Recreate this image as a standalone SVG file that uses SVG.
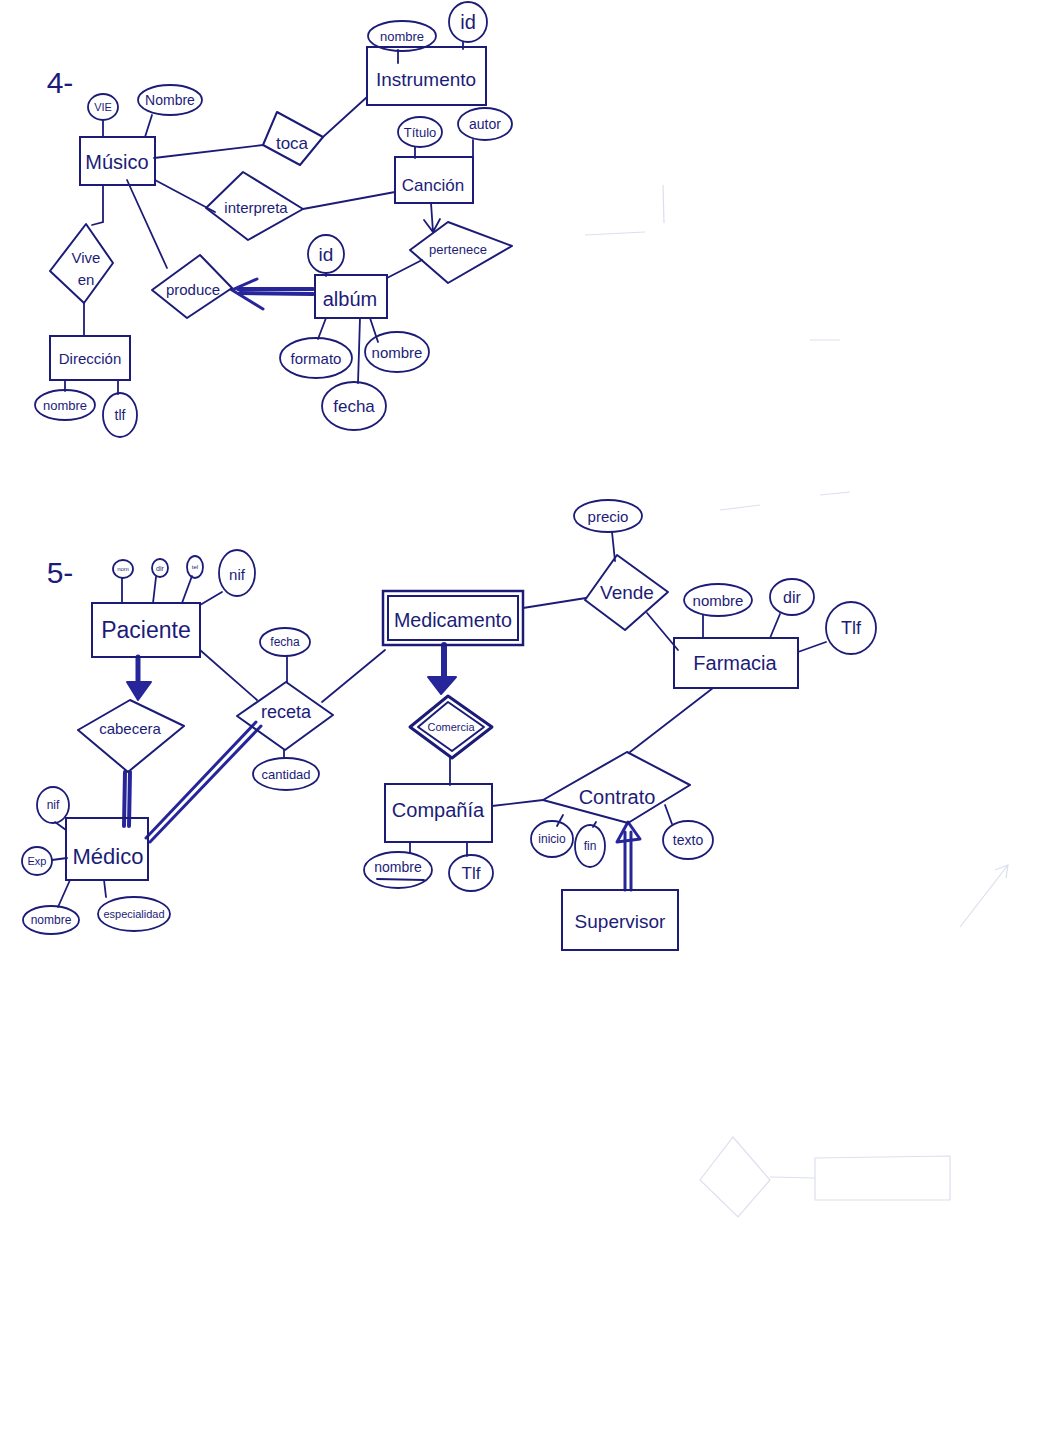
<svg xmlns="http://www.w3.org/2000/svg" width="1050" height="1454" viewBox="0 0 1050 1454">
<style>
.ent{fill:none;stroke:#1c1c78;stroke-width:2}
.rel{fill:none;stroke:#1c1c78;stroke-width:2;stroke-linejoin:round}
.att{fill:none;stroke:#1c1c78;stroke-width:1.8}
.ln{fill:none;stroke:#1c1c78;stroke-width:1.8;stroke-linecap:round}
.thick{fill:none;stroke:#26269a;stroke-width:4;stroke-linecap:round}
.t{font-family:"Liberation Sans","DejaVu Sans",sans-serif;fill:#1c1c78;text-anchor:middle;dominant-baseline:central}
.ghost{fill:none;stroke:#dcdfee;stroke-width:1.2}
</style>
<rect width="1050" height="1454" fill="#ffffff"/>

<!-- faint bleed-through marks -->
<g id="bleed">
<path class="ghost" d="M663 185 L664 223 M585 235 L645 232"/>
<path class="ghost" d="M960 927 L1008 865 M995 870 L1008 865 L1006 878"/>
<path class="ghost" d="M700 1180 L733 1137 L770 1180 L738 1217 Z M770 1177 L815 1178 M815 1158 L950 1156 L950 1200 L815 1200 Z"/>
<path class="ghost" d="M720 510 L760 505 M820 495 L850 492 M810 340 L840 340"/>
</g>

<!-- section labels -->
<text class="t" x="60" y="82" font-size="30">4-</text>
<text class="t" x="60" y="572" font-size="30">5-</text>

<!-- connectors -->
<g id="connectors">
<!-- section 4 -->
<path class="ln" d="M103 121 L103 137"/>
<path class="ln" d="M152 115 L145 137"/>
<path class="ln" d="M398 50 L398 63"/>
<path class="ln" d="M463 42 L463 49"/>
<path class="ln" d="M154 158 L263 145"/>
<path class="ln" d="M323 137 L367 97"/>
<path class="ln" d="M415 147 L415 158"/>
<path class="ln" d="M473 140 L473 158"/>
<path class="ln" d="M155 180 L215 212"/>
<path class="ln" d="M395 192 L303 209"/>
<path class="ln" d="M431 203 L433 232 M424 220 L433 232 L440 219"/>
<path class="ln" d="M422 260 L387 278"/>
<path class="ln" d="M326 273 L326 276"/>
<path class="ln" d="M127 180 L167 268"/>
<path class="ln" d="M103 185 L103 222 L92 225"/>
<path class="ln" d="M84 303 L84 336"/>
<path class="ln" d="M65 380 L65 391"/>
<path class="ln" d="M118 380 L118 394"/>
<path class="ln" d="M326 318 L318 339"/>
<path class="ln" d="M370 318 L378 342"/>
<path class="ln" d="M360 318 L358 383"/>
<!-- album to produce thick arrow -->
<path class="thick" d="M313 289 L238 289 M313 294 L240 293"/>
<path class="thick" style="stroke-width:3" d="M257 279 L232 290 L263 309"/>
<!-- section 5 -->
<path class="ln" d="M122 578 L122 603"/>
<path class="ln" d="M156 577 L153 603"/>
<path class="ln" d="M192 576 L182 603"/>
<path class="ln" d="M222 592 L200 605"/>
<path class="thick" style="stroke-width:5" d="M138 657 L138 684"/>
<polygon points="127,682 151,682 138,700" fill="#26269a" stroke="#26269a" stroke-width="2" stroke-linejoin="round"/>
<path class="thick" d="M125 772 L124 826 M130 772 L129 826"/>
<path class="ln" d="M200 650 L257 700"/>
<path class="ln" d="M287 657 L287 682"/>
<path class="ln" d="M284 750 L284 758"/>
<path class="thick" style="stroke-width:3" d="M256 722 L146 838 M261 726 L150 842"/>
<path class="ln" d="M322 702 L385 650"/>
<path class="ln" d="M55 822 L66 830"/>
<path class="ln" d="M52 860 L67 858"/>
<path class="ln" d="M70 880 L58 907"/>
<path class="ln" d="M104 880 L106 897"/>
<path class="ln" d="M612 532 L615 561"/>
<path class="ln" d="M523 608 L586 598"/>
<path class="ln" d="M647 613 L678 650"/>
<path class="ln" d="M703 615 L703 638"/>
<path class="ln" d="M780 614 L770 638"/>
<path class="ln" d="M798 652 L826 642"/>
<path class="thick" style="stroke-width:6" d="M444 645 L444 680"/>
<polygon points="428,677 456,677 441,694" fill="#26269a" stroke="#26269a" stroke-width="2" stroke-linejoin="round"/>
<path class="ln" d="M450 757 L450 785"/>
<path class="ln" d="M410 842 L410 853"/>
<path class="ln" d="M467 842 L467 856"/>
<path class="ln" d="M492 806 L543 800"/>
<path class="ln" d="M713 688 L630 752"/>
<path class="ln" d="M563 815 L557 826"/>
<path class="ln" d="M596 822 L593 827"/>
<path class="ln" d="M665 805 L672 824"/>
<path class="thick" style="stroke-width:3" d="M625 890 L625 832 M631 890 L631 832"/>
<polygon points="628,822 617,842 640,839" fill="none" stroke="#26269a" stroke-width="3" stroke-linejoin="round"/>
</g>

<!-- ===== Section 4 nodes ===== -->
<g id="musico">
<rect class="ent" x="80" y="137" width="75" height="48"/>
<text class="t" x="117" y="162" font-size="20">Músico</text>
</g>
<g id="musico-vie">
<ellipse class="att" cx="103" cy="107" rx="15" ry="13"/>
<text class="t" x="103" y="107" font-size="11">VIE</text>
</g>
<g id="musico-nombre">
<ellipse class="att" cx="170" cy="100" rx="32" ry="15"/>
<text class="t" x="170" y="100" font-size="14">Nombre</text>
</g>
<g id="instrumento">
<rect class="ent" x="367" y="47" width="119" height="58"/>
<text class="t" x="426" y="79" font-size="19" textLength="100" lengthAdjust="spacingAndGlyphs">Instrumento</text>
</g>
<g id="instrumento-nombre">
<ellipse class="att" cx="402" cy="36" rx="34" ry="15"/>
<text class="t" x="402" y="36" font-size="13">nombre</text>
</g>
<g id="instrumento-id">
<ellipse class="att" cx="468" cy="22" rx="19" ry="20"/>
<text class="t" x="468" y="22" font-size="20">id</text>
</g>
<g id="toca">
<polygon class="rel" points="277,112 323,137 300,165 263,145"/>
<text class="t" x="292" y="143" font-size="17">toca</text>
</g>
<g id="cancion">
<rect class="ent" x="395" y="157" width="78" height="46"/>
<text class="t" x="433" y="185" font-size="17">Canción</text>
</g>
<g id="cancion-titulo">
<ellipse class="att" cx="420" cy="132" rx="22" ry="15"/>
<text class="t" x="420" y="132" font-size="13">Título</text>
</g>
<g id="cancion-autor">
<ellipse class="att" cx="485" cy="124" rx="27" ry="16"/>
<text class="t" x="485" y="124" font-size="14">autor</text>
</g>
<g id="interpreta">
<polygon class="rel" points="243,172 303,209 248,240 206,208"/>
<text class="t" x="256" y="207" font-size="15">interpreta</text>
</g>
<g id="pertenece">
<polygon class="rel" points="448,222 512,246 448,283 410,250"/>
<text class="t" x="458" y="249" font-size="13">pertenece</text>
</g>
<g id="album">
<rect class="ent" x="315" y="275" width="72" height="43"/>
<text class="t" x="350" y="299" font-size="20">albúm</text>
</g>
<g id="album-id">
<ellipse class="att" cx="326" cy="254" rx="18" ry="19"/>
<text class="t" x="326" y="254" font-size="19">id</text>
</g>
<g id="album-formato">
<ellipse class="att" cx="316" cy="358" rx="36" ry="20"/>
<text class="t" x="316" y="358" font-size="15">formato</text>
</g>
<g id="album-nombre">
<ellipse class="att" cx="397" cy="352" rx="32" ry="20"/>
<text class="t" x="397" y="352" font-size="15">nombre</text>
</g>
<g id="album-fecha">
<ellipse class="att" cx="354" cy="406" rx="32" ry="24"/>
<text class="t" x="354" y="406" font-size="17">fecha</text>
</g>
<g id="produce">
<polygon class="rel" points="200,255 232,288 187,318 152,290"/>
<text class="t" x="193" y="289" font-size="15">produce</text>
</g>
<g id="vive-en">
<polygon class="rel" points="86,224 113,263 84,303 50,271"/>
<text class="t" x="86" y="257" font-size="15">Vive</text>
<text class="t" x="86" y="279" font-size="15">en</text>
</g>
<g id="direccion">
<rect class="ent" x="50" y="336" width="80" height="44"/>
<text class="t" x="90" y="358" font-size="15">Dirección</text>
</g>
<g id="direccion-nombre">
<ellipse class="att" cx="65" cy="405" rx="30" ry="15"/>
<text class="t" x="65" y="405" font-size="13">nombre</text>
</g>
<g id="direccion-tlf">
<ellipse class="att" cx="120" cy="415" rx="17" ry="22"/>
<text class="t" x="120" y="415" font-size="14">tlf</text>
</g>

<!-- ===== Section 5 nodes ===== -->
<g id="paciente">
<rect class="ent" x="92" y="603" width="108" height="54"/>
<text class="t" x="146" y="630" font-size="23">Paciente</text>
</g>
<g id="paciente-nom">
<ellipse class="att" cx="123" cy="569" rx="10" ry="9"/>
<text class="t" x="123" y="569" font-size="6">nom</text>
</g>
<g id="paciente-dir">
<ellipse class="att" cx="160" cy="568" rx="8" ry="9"/>
<text class="t" x="160" y="568" font-size="7">dir</text>
</g>
<g id="paciente-tel">
<ellipse class="att" cx="195" cy="567" rx="8" ry="11"/>
<text class="t" x="195" y="567" font-size="6">tel</text>
</g>
<g id="paciente-nif">
<ellipse class="att" cx="237" cy="573" rx="18" ry="23"/>
<text class="t" x="237" y="574" font-size="15">nif</text>
</g>
<g id="cabecera">
<polygon class="rel" points="130,700 184,726 128,772 78,730"/>
<text class="t" x="130" y="728" font-size="15">cabecera</text>
</g>
<g id="medico">
<rect class="ent" x="66" y="818" width="82" height="62"/>
<text class="t" x="108" y="856" font-size="22">Médico</text>
</g>
<g id="medico-nif">
<ellipse class="att" cx="53" cy="805" rx="16" ry="18"/>
<text class="t" x="53" y="805" font-size="12">nif</text>
</g>
<g id="medico-exp">
<ellipse class="att" cx="37" cy="861" rx="15" ry="14"/>
<text class="t" x="37" y="861" font-size="11">Exp</text>
</g>
<g id="medico-nombre">
<ellipse class="att" cx="51" cy="920" rx="28" ry="14"/>
<text class="t" x="51" y="920" font-size="12">nombre</text>
</g>
<g id="medico-especialidad">
<ellipse class="att" cx="134" cy="914" rx="36" ry="17"/>
<text class="t" x="134" y="914" font-size="11">especialidad</text>
</g>
<g id="receta">
<polygon class="rel" points="286,682 333,715 285,750 237,716"/>
<text class="t" x="286" y="712" font-size="18">receta</text>
</g>
<g id="receta-fecha">
<ellipse class="att" cx="285" cy="642" rx="25" ry="14"/>
<text class="t" x="285" y="642" font-size="12">fecha</text>
</g>
<g id="receta-cantidad">
<ellipse class="att" cx="286" cy="774" rx="33" ry="16"/>
<text class="t" x="286" y="774" font-size="13">cantidad</text>
</g>
<g id="medicamento">
<rect class="ent" x="383" y="591" width="140" height="54" style="stroke-width:2.5"/>
<rect class="ent" x="388" y="596" width="130" height="44"/>
<text class="t" x="453" y="619" font-size="21" textLength="118" lengthAdjust="spacingAndGlyphs">Medicamento</text>
</g>
<g id="vende">
<polygon class="rel" points="617,555 668,592 625,630 585,600"/>
<text class="t" x="627" y="592" font-size="19">Vende</text>
</g>
<g id="vende-precio">
<ellipse class="att" cx="608" cy="516" rx="34" ry="16"/>
<text class="t" x="608" y="516" font-size="15">precio</text>
</g>
<g id="farmacia">
<rect class="ent" x="674" y="638" width="124" height="50"/>
<text class="t" x="735" y="663" font-size="20">Farmacia</text>
</g>
<g id="farmacia-nombre">
<ellipse class="att" cx="718" cy="600" rx="34" ry="16"/>
<text class="t" x="718" y="600" font-size="15">nombre</text>
</g>
<g id="farmacia-dir">
<ellipse class="att" cx="792" cy="597" rx="22" ry="18"/>
<text class="t" x="792" y="597" font-size="16">dir</text>
</g>
<g id="farmacia-tlf">
<ellipse class="att" cx="851" cy="628" rx="25" ry="26"/>
<text class="t" x="851" y="628" font-size="18">Tlf</text>
</g>
<g id="comercia">
<polygon class="rel" points="448,696 492,727 452,758 410,727" style="stroke-width:3"/>
<polygon class="rel" points="448,702 484,727 452,751 418,727"/>
<text class="t" x="451" y="727" font-size="11">Comercia</text>
</g>
<g id="compania">
<rect class="ent" x="385" y="784" width="107" height="58"/>
<text class="t" x="438" y="810" font-size="20">Compañía</text>
</g>
<g id="compania-nombre">
<ellipse class="att" cx="398" cy="870" rx="34" ry="18"/>
<text class="t" x="398" y="867" font-size="14">nombre</text>
<path class="ln" d="M377 879 L424 880"/>
</g>
<g id="compania-tlf">
<ellipse class="att" cx="471" cy="873" rx="22" ry="18"/>
<text class="t" x="471" y="873" font-size="17">Tlf</text>
</g>
<g id="contrato">
<polygon class="rel" points="627,752 690,785 628,823 543,800"/>
<text class="t" x="617" y="797" font-size="20">Contrato</text>
</g>
<g id="contrato-inicio">
<ellipse class="att" cx="552" cy="839" rx="21" ry="18"/>
<text class="t" x="552" y="839" font-size="12">inicio</text>
</g>
<g id="contrato-fin">
<ellipse class="att" cx="590" cy="846" rx="15" ry="21"/>
<text class="t" x="590" y="846" font-size="12">fin</text>
</g>
<g id="contrato-texto">
<ellipse class="att" cx="688" cy="840" rx="25" ry="19"/>
<text class="t" x="688" y="840" font-size="14">texto</text>
</g>
<g id="supervisor">
<rect class="ent" x="562" y="890" width="116" height="60"/>
<text class="t" x="620" y="921" font-size="19">Supervisor</text>
</g>
</svg>
